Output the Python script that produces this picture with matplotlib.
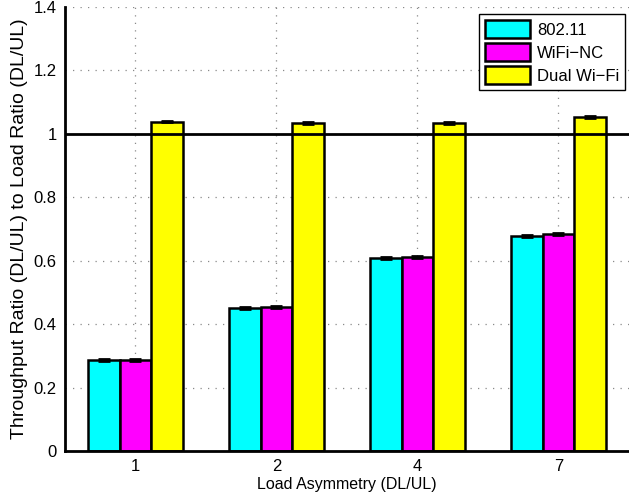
"""Throughput ratio vs load asymmetry, grouped bars (802.11 / WiFi-NC / Dual Wi-Fi)."""

import matplotlib

matplotlib.use("Agg")
import matplotlib.pyplot as plt
import numpy as np

plt.rcParams.update({
    "font.family": "sans-serif",
    "font.sans-serif": ["Liberation Sans", "DejaVu Sans"],
    "font.size": 12,
})

# data
groups = ["1", "2", "4", "7"]
series = ["802.11", "WiFi\u2212NC", "Dual Wi\u2212Fi"]
ieee = [0.287, 0.451, 0.607, 0.678]
wifinc = [0.288, 0.453, 0.611, 0.684]
dual = [1.038, 1.034, 1.033, 1.052]
errs = [[0.003, 0.003, 0.003, 0.003],
        [0.003, 0.003, 0.003, 0.003],
        [0.003, 0.003, 0.003, 0.004]]

COLORS = ["#00ffff", "#ff00ff", "#ffff00"]
GRID = "#8a8a8a"

fig = plt.figure(figsize=(6.29, 4.96), dpi=100)
ax = fig.add_axes([0.1033, 0.0907, 0.8967, 0.896])

x = np.arange(1, len(groups) + 1)
width = 0.223
for i, (vals, lab, col) in enumerate(zip([ieee, wifinc, dual], series, COLORS)):
    pos = x + (i - 1) * width
    ax.bar(pos, vals, width, color=col, edgecolor="black", linewidth=1.8,
           label=lab, zorder=2)
    ax.errorbar(pos, vals, yerr=errs[i], fmt="none", ecolor="black",
                elinewidth=1.5, capsize=4, capthick=2, zorder=3)

# reference line at ratio 1
ax.axhline(1.0, color="black", lw=2, zorder=4)

ax.set_xlim(0.5, 4.5)
ax.set_ylim(0, 1.4)
ax.set_xticks(x)
ax.set_xticklabels(groups)
ax.set_yticks(np.arange(0, 1.41, 0.2))
ax.set_yticklabels(["0", "0.2", "0.4", "0.6", "0.8", "1", "1.2", "1.4"])
ax.tick_params(length=0, pad=6)

ax.grid(True, color=GRID, linestyle=(0, (1, 5)), linewidth=0.9, zorder=0)
ax.set_axisbelow(True)

for s in ("top", "right"):
    ax.spines[s].set_visible(False)
for s in ("left", "bottom"):
    ax.spines[s].set_linewidth(2)
    ax.spines[s].set_zorder(5)

ax.set_xlabel("Load Asymmetry (DL/UL)", fontsize=11.5, labelpad=2)
ax.set_ylabel("Throughput Ratio (DL/UL) to Load Ratio (DL/UL)", fontsize=14,
              labelpad=4)

leg = ax.legend(loc="upper right", bbox_to_anchor=(0.993, 0.983), fancybox=False,
                framealpha=1, edgecolor="black", borderpad=0.35,
                handlelength=2.7, handleheight=1.3, handletextpad=0.4,
                labelspacing=0.3, borderaxespad=0)
leg.get_frame().set_linewidth(1.0)
leg.set_zorder(6)

fig.savefig("out.png", dpi=100)
print("wrote out.png")
